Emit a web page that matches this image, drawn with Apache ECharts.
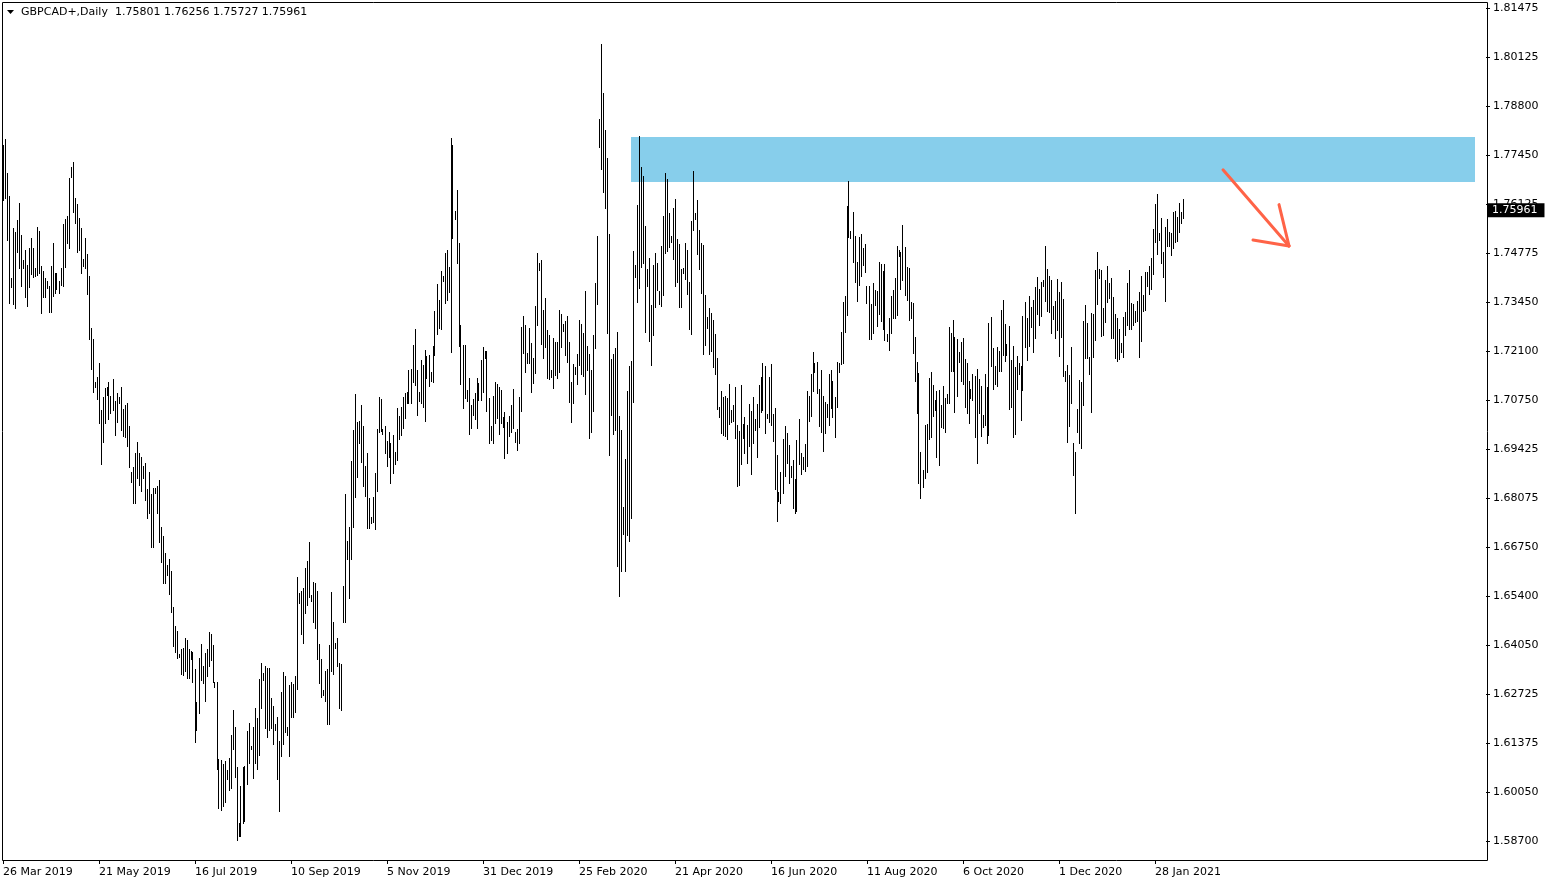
<!DOCTYPE html>
<html>
<head>
<meta charset="utf-8">
<script src="https://cdn.jsdelivr.net/npm/echarts@6/dist/echarts.min.js"></script>
<style>
html,body{margin:0;padding:0;background:#fff;}
#chart{width:1550px;height:884px;}
</style>
</head>
<body>
<div id="chart"></div>
<script>
// ---------- data ----------
const SYMBOL = 'GBPCAD+,Daily';
const LAST_OHLC = [1.75801, 1.76256, 1.75727, 1.75961];
const SLOTS = 742;
const X_LABELS = ['26 Mar 2019','21 May 2019','16 Jul 2019','10 Sep 2019','5 Nov 2019','31 Dec 2019','25 Feb 2020','21 Apr 2020','16 Jun 2020','11 Aug 2020','6 Oct 2020','1 Dec 2020','28 Jan 2021'];
const X_LABEL_STEP = 48;
const Y_LABELS = ['1.58700','1.60050','1.61375','1.62725','1.64050','1.65400','1.66750','1.68075','1.69425','1.70750','1.72100','1.73450','1.74775','1.76125','1.77450','1.78800','1.80125','1.81475'];
const Y_MIN = 1.58700;
const Y_MAX = 1.81475;
const ZONE_X = [314, 736];
const ZONE_Y = [1.77948, 1.76718];
const ARROW_FROM = [610, 1.7705];
const ARROW_TO = [643, 1.7497];
const ARROW_HEAD_A = [625, 1.7513];
const ARROW_HEAD_B = [638, 1.7610];

const HIGH = [
1.7773,1.7789,1.7697,1.7634,1.7409,1.7546,1.7536,1.7568,1.7615,1.7527,
1.7459,1.7486,1.7445,1.7491,1.7519,1.7491,1.7437,1.7549,1.7538,1.7443,
1.7428,1.7409,1.7401,1.7388,1.7443,1.7505,1.7423,1.7423,1.7401,1.7437,
1.7557,1.7570,1.7579,1.7683,1.7713,1.7727,1.7628,1.7612,1.7573,1.7546,
1.7461,1.7519,1.7475,1.7415,1.7272,1.7242,1.7125,1.7139,1.7177,1.7048,
1.7084,1.7108,1.7111,1.7125,1.7087,1.7133,1.7073,1.7095,1.7084,1.7111,
1.7051,1.7062,1.7068,1.7005,1.6879,1.6893,1.6931,1.6961,1.6931,1.6920,
1.6896,1.6904,1.6832,1.6879,1.6819,1.6835,1.6835,1.6841,1.6857,1.6729,
1.6704,1.6658,1.6624,1.6641,1.6608,1.6510,1.6458,1.6444,1.6381,1.6395,
1.6398,1.6425,1.6420,1.6395,1.6389,1.6387,1.6340,1.6250,1.6370,1.6409,
1.6349,1.6384,1.6395,1.6442,1.6436,1.6406,1.6305,1.6305,1.6094,1.6091,
1.6080,1.6088,1.6064,1.6097,1.6159,1.6228,1.6182,1.6072,1.5919,1.6021,
1.6072,1.6075,1.6170,1.6193,1.6130,1.6182,1.6233,1.6206,1.6312,1.6357,
1.6329,1.6349,1.6343,1.6343,1.6261,1.6239,1.6190,1.6209,1.6143,1.6278,
1.6332,1.6321,1.6182,1.6296,1.6305,1.6299,1.6321,1.6592,1.6548,1.6553,
1.6562,1.6616,1.6635,1.6688,1.6542,1.6579,1.6576,1.6553,1.6409,1.6367,
1.6283,1.6334,1.6340,1.6406,1.6551,1.6469,1.6412,1.6425,1.6357,1.6354,
1.6568,1.6819,1.6690,1.6729,1.6909,1.6994,1.7092,1.7016,1.7018,1.7062,
1.7005,1.6896,1.6931,1.6808,1.6756,1.6811,1.6876,1.6996,1.7084,1.7078,
1.6996,1.7005,1.6963,1.6989,1.6958,1.6980,1.6934,1.7054,1.7032,1.7057,
1.7084,1.7095,1.7098,1.7158,1.7160,1.7226,1.7269,1.7158,1.7098,1.7185,
1.7171,1.7212,1.7196,1.7198,1.7153,1.7224,1.7319,1.7393,1.7349,1.7428,
1.7415,1.7478,1.7486,1.7440,1.7792,1.7773,1.7592,1.7650,1.7505,1.7280,
1.7226,1.7226,1.7103,1.7136,1.7062,1.7078,1.7095,1.7136,1.7122,1.7185,
1.7221,1.7209,1.7209,1.7081,1.7005,1.7087,1.7125,1.7119,1.7111,1.7103,
1.7029,1.7043,1.7016,1.7032,1.7062,1.7105,1.6989,1.6996,1.7084,1.7275,
1.7306,1.7280,1.7204,1.7272,1.7232,1.7190,1.7333,1.7478,1.7451,1.7459,
1.7322,1.7355,1.7267,1.7253,1.7158,1.7245,1.7235,1.7235,1.7322,1.7311,
1.7283,1.7291,1.7306,1.7235,1.7125,1.7174,1.7166,1.7201,1.7294,1.7283,
1.7259,1.7374,1.7224,1.7201,1.7158,1.7253,1.7396,1.7525,1.7844,1.8049,
1.7915,1.7814,1.7737,1.7530,1.7187,1.7201,1.7218,1.7262,1.7032,1.6994,
1.6783,1.6914,1.7100,1.7169,1.7182,1.7483,1.7445,1.7609,1.7798,1.7713,
1.7689,1.7552,1.7434,1.7464,1.7335,1.7445,1.7478,1.7451,1.7374,1.7497,
1.7579,1.7697,1.7680,1.7587,1.7525,1.7601,1.7625,1.7516,1.7502,1.7434,
1.7437,1.7505,1.7486,1.7399,1.7565,1.7702,1.7587,1.7623,1.7541,1.7505,
1.7499,1.7363,1.7303,1.7327,1.7314,1.7294,1.7256,1.7190,1.7057,1.7100,
1.7084,1.7087,1.7081,1.7119,1.7048,1.7062,1.7111,1.7007,1.6991,1.7116,
1.7010,1.7029,1.7007,1.7065,1.7045,1.7084,1.7023,1.7065,1.7116,1.7139,
1.7177,1.7169,1.7037,1.7139,1.7174,1.7037,1.7054,1.6925,1.6825,1.6879,
1.6969,1.7005,1.6986,1.6952,1.6896,1.6912,1.6859,1.6966,1.7023,1.6931,
1.6920,1.6955,1.7100,1.7087,1.7147,1.7207,1.7177,1.7180,1.7105,1.7158,
1.7087,1.7071,1.7065,1.7147,1.7158,1.7127,1.7084,1.7180,1.7177,1.7262,
1.7344,1.7361,1.7607,1.7674,1.7538,1.7590,1.7525,1.7454,1.7522,1.7530,
1.7491,1.7502,1.7388,1.7388,1.7338,1.7396,1.7377,1.7374,1.7454,1.7448,
1.7428,1.7448,1.7256,1.7300,1.7361,1.7377,1.7409,1.7497,1.7486,1.7481,
1.7554,1.7494,1.7440,1.7437,1.7344,1.7341,1.7248,1.7180,1.7150,1.6934,
1.6884,1.7007,1.7010,1.7136,1.7153,1.7116,1.7076,1.7100,1.7103,1.7062,
1.7114,1.7081,1.7092,1.7275,1.7259,1.7294,1.7248,1.7242,1.7207,1.7235,
1.7245,1.7187,1.7177,1.7127,1.7105,1.7147,1.7142,1.7160,1.7133,1.7114,
1.7034,1.7147,1.7111,1.7286,1.7303,1.7218,1.7169,1.7221,1.7209,1.7322,
1.7349,1.7283,1.7229,1.7278,1.7185,1.7224,1.7166,1.7196,1.7177,1.7169,
1.7306,1.7344,1.7300,1.7361,1.7330,1.7349,1.7385,1.7412,1.7379,1.7399,
1.7404,1.7497,1.7434,1.7415,1.7404,1.7333,1.7346,1.7406,1.7372,1.7399,
1.7352,1.7155,1.7171,1.7144,1.7221,1.6958,1.6934,1.7051,1.7130,1.7125,
1.7291,1.7335,1.7286,1.7193,1.7314,1.7311,1.7431,1.7481,1.7434,1.7431,
1.7327,1.7404,1.7443,1.7396,1.7409,1.7358,1.7311,1.7300,1.7269,1.7232,
1.7303,1.7317,1.7396,1.7431,1.7341,1.7338,1.7319,1.7346,1.7372,1.7415,
1.7363,1.7426,1.7426,1.7443,1.7464,1.7543,1.7612,1.7639,1.7533,1.7573,
1.7481,1.7549,1.7570,1.7536,1.7533,1.7590,1.7592,1.7576,1.7615,1.7590,
1.76256
];

const LOW = [
1.7623,1.7628,1.7513,1.7341,1.7385,1.7338,1.7327,1.7481,1.7437,1.7388,
1.7437,1.7358,1.7333,1.7385,1.7420,1.7412,1.7415,1.7417,1.7423,1.7314,
1.7358,1.7358,1.7382,1.7317,1.7317,1.7361,1.7369,1.7379,1.7369,1.7390,
1.7388,1.7440,1.7505,1.7491,1.7686,1.7590,1.7560,1.7481,1.7486,1.7423,
1.7443,1.7437,1.7366,1.7242,1.7160,1.7098,1.7111,1.7078,1.7013,1.6901,
1.6961,1.7013,1.7089,1.7023,1.7040,1.7048,1.6980,1.7016,1.7068,1.6994,
1.6978,1.6975,1.6950,1.6893,1.6852,1.6794,1.6794,1.6862,1.6843,1.6827,
1.6862,1.6802,1.6753,1.6767,1.6674,1.6674,1.6822,1.6767,1.6688,1.6633,
1.6576,1.6576,1.6597,1.6545,1.6497,1.6404,1.6387,1.6370,1.6373,1.6326,
1.6323,1.6334,1.6315,1.6315,1.6367,1.6305,1.6141,1.6173,1.6220,1.6310,
1.6302,1.6252,1.6321,1.6349,1.6365,1.6305,1.6291,1.6066,1.5960,1.5955,
1.5966,1.5977,1.6039,1.6009,1.6015,1.6121,1.6045,1.5873,1.5884,1.5884,
1.5919,1.5924,1.6026,1.6083,1.6121,1.6042,1.6083,1.6066,1.6105,1.6233,
1.6310,1.6179,1.6154,1.6173,1.6179,1.6135,1.6173,1.6039,1.5952,1.6103,
1.6135,1.6168,1.6159,1.6103,1.6209,1.6209,1.6223,1.6285,1.6521,1.6436,
1.6412,1.6494,1.6515,1.6537,1.6526,1.6469,1.6452,1.6367,1.6302,1.6264,
1.6269,1.6252,1.6190,1.6190,1.6334,1.6326,1.6398,1.6349,1.6233,1.6228,
1.6469,1.6469,1.6641,1.6534,1.6641,1.6729,1.6811,1.6865,1.6958,1.6907,
1.6841,1.6814,1.6726,1.6726,1.6740,1.6743,1.6723,1.6827,1.6989,1.6991,
1.6983,1.6931,1.6896,1.6920,1.6849,1.6876,1.6901,1.6912,1.6969,1.6980,
1.6999,1.7026,1.7068,1.7068,1.7068,1.7125,1.7116,1.7034,1.7073,1.7068,
1.7057,1.7018,1.7136,1.7114,1.7127,1.7125,1.7198,1.7256,1.7272,1.7269,
1.7401,1.7341,1.7349,1.7372,1.7207,1.7519,1.7570,1.7451,1.7224,1.7119,
1.7054,1.7081,1.7073,1.6983,1.6999,1.7034,1.7023,1.6999,1.7076,1.7076,
1.7098,1.7190,1.7045,1.6958,1.6966,1.6958,1.7013,1.7026,1.6983,1.7013,
1.7002,1.6917,1.6931,1.6978,1.6989,1.6999,1.6961,1.6939,1.6958,1.7045,
1.7204,1.7153,1.7177,1.7177,1.7098,1.7122,1.7150,1.7280,1.7431,1.7229,
1.7190,1.7221,1.7136,1.7133,1.7139,1.7108,1.7144,1.7136,1.7153,1.7221,
1.7264,1.7198,1.7180,1.7071,1.7016,1.7068,1.7147,1.7119,1.7171,1.7147,
1.7142,1.7092,1.7158,1.6972,1.6989,1.7045,1.7218,1.7338,1.7768,1.7707,
1.7645,1.7601,1.7259,1.6925,1.7034,1.6983,1.6994,1.6622,1.6540,1.6608,
1.6709,1.6608,1.6706,1.6690,1.6753,1.7071,1.7412,1.7344,1.7382,1.7440,
1.7451,1.7262,1.7388,1.7237,1.7171,1.7253,1.7330,1.7377,1.7338,1.7333,
1.7363,1.7478,1.7483,1.7494,1.7508,1.7461,1.7388,1.7399,1.7330,1.7330,
1.7423,1.7406,1.7366,1.7269,1.7256,1.7541,1.7570,1.7475,1.7434,1.7369,
1.7201,1.7226,1.7272,1.7201,1.7209,1.7166,1.7147,1.7051,1.7029,1.6986,
1.6980,1.6978,1.6969,1.7010,1.7016,1.7018,1.6972,1.6841,1.6843,1.6901,
1.6972,1.6931,1.6904,1.6950,1.6873,1.6958,1.6994,1.6920,1.7002,1.7043,
1.7048,1.6986,1.7026,1.7016,1.7007,1.6963,1.6832,1.6745,1.6799,1.6794,
1.6822,1.6868,1.6904,1.6849,1.6865,1.6780,1.6767,1.6772,1.6901,1.6873,
1.6887,1.6881,1.6896,1.7018,1.7032,1.7100,1.7153,1.7095,1.7005,1.6989,
1.6936,1.6986,1.7029,1.7007,1.7054,1.7029,1.6975,1.7057,1.7153,1.7174,
1.7177,1.7262,1.7308,1.7522,1.7519,1.7454,1.7399,1.7346,1.7390,1.7415,
1.7445,1.7426,1.7341,1.7242,1.7242,1.7259,1.7335,1.7278,1.7311,1.7291,
1.7269,1.7240,1.7237,1.7212,1.7259,1.7300,1.7300,1.7308,1.7470,1.7379,
1.7404,1.7363,1.7349,1.7294,1.7300,1.7204,1.7127,1.7040,1.6849,1.6808,
1.6838,1.6862,1.6879,1.6969,1.6975,1.7032,1.7048,1.6920,1.6898,1.7002,
1.6999,1.6989,1.7068,1.7068,1.7155,1.7155,1.7043,1.7087,1.7180,1.7127,
1.7119,1.7057,1.7040,1.7013,1.7081,1.7076,1.6975,1.6904,1.7040,1.6978,
1.7002,1.7007,1.6958,1.6980,1.7169,1.7105,1.7119,1.7114,1.7155,1.7155,
1.7198,1.7182,1.7198,1.7051,1.7057,1.6975,1.6983,1.7105,1.7147,1.7021,
1.7103,1.7221,1.7185,1.7224,1.7275,1.7207,1.7245,1.7311,1.7280,1.7306,
1.7388,1.7346,1.7319,1.7317,1.7259,1.7297,1.7245,1.7267,1.7196,1.7248,
1.7142,1.7127,1.6961,1.7005,1.7068,1.6871,1.6767,1.6989,1.6958,1.6944,
1.7062,1.7190,1.7190,1.7147,1.7043,1.7193,1.7240,1.7338,1.7409,1.7251,
1.7253,1.7289,1.7344,1.7355,1.7245,1.7245,1.7190,1.7182,1.7187,1.7207,
1.7193,1.7253,1.7280,1.7269,1.7269,1.7280,1.7289,1.7291,1.7193,1.7237,
1.7319,1.7322,1.7388,1.7366,1.7379,1.7420,1.7508,1.7475,1.7513,1.7451,
1.7412,1.7346,1.7497,1.7497,1.7473,1.7491,1.7508,1.7510,1.7536,1.7560,
1.75727
];

// ---------- chart ----------
const FONT = 'DejaVu Sans';
const chart = echarts.init(document.getElementById('chart'), null, {renderer: 'canvas'});
const cats = Array.from({length: SLOTS}, (_, i) => String(i));
const yStep = (Y_MAX - Y_MIN) / (Y_LABELS.length - 1);
const isLabelIdx = (idx) => idx % X_LABEL_STEP === 0 && idx / X_LABEL_STEP < X_LABELS.length;

const option = {
  animation: false,
  backgroundColor: '#ffffff',
  grid: {left: 2, right: 64, top: 8, bottom: 43, outerBoundsMode: 'none', containLabel: false},
  xAxis: {
    type: 'category',
    data: cats,
    boundaryGap: true,
    offset: 19,
    axisLine: {show: false},
    axisTick: {show: true, alignWithLabel: true, length: 4, interval: (i) => isLabelIdx(i), lineStyle: {color: '#000'}},
    axisLabel: {
      show: true, interval: (i) => isLabelIdx(i), align: 'left', margin: 7,
      color: '#000', fontSize: 11, fontFamily: FONT,
      formatter: (v, i) => { const k = Number(v) / X_LABEL_STEP; return Number.isInteger(k) && k < X_LABELS.length ? X_LABELS[k] : ''; }
    },
    splitLine: {show: false}
  },
  yAxis: {
    type: 'value',
    position: 'right',
    min: Y_MIN, max: Y_MAX, interval: yStep,
    scale: true,
    axisLine: {show: false},
    axisTick: {show: true, length: 4, lineStyle: {color: '#000'}},
    splitLine: {show: false},
    axisLabel: {
      color: '#000', fontSize: 11, fontFamily: FONT, margin: 7,
      formatter: (v) => { const k = Math.round((v - Y_MIN) / yStep); return Y_LABELS[k] || ''; }
    }
  },
  graphic: [
    {type: 'rect', z: 100, silent: true, shape: {x: 2.5, y: 2.5, width: 1485, height: 858}, style: {fill: null, stroke: '#000', lineWidth: 1}},
    {type: 'polygon', z: 100, silent: true, shape: {points: [[7, 10], [14, 10], [10.5, 14]]}, style: {fill: '#000'}},
    {type: 'text', z: 100, silent: true, left: 21, top: 7,
     style: {text: SYMBOL + '  ' + LAST_OHLC.map(v => v.toFixed(5)).join(' '), fill: '#000', font: '11px "' + FONT + '"'}}
  ],
  series: [
    {
      type: 'line', data: [], z: 1, silent: true, symbol: 'none',
      markArea: {
        silent: true,
        itemStyle: {color: '#87ceeb', opacity: 1},
        data: [[{xAxis: ZONE_X[0], yAxis: ZONE_Y[0]}, {xAxis: ZONE_X[1], yAxis: ZONE_Y[1]}]]
      }
    },
    {
      type: 'custom', z: 3, silent: true,
      data: HIGH.map((h, i) => [i, h, LOW[i]]),
      encode: {x: 0, y: [1, 2]},
      renderItem: (params, api) => {
        const top = api.coord([api.value(0), api.value(1)]);
        const bot = api.coord([api.value(0), api.value(2)]);
        const x = Math.floor(top[0]);
        const y1 = Math.round(top[1]);
        const y2 = Math.round(bot[1]);
        return {type: 'rect', shape: {x: x, y: y1, width: 1, height: Math.max(1, y2 - y1 + 1)}, style: {fill: '#000'}};
      },
      markLine: {
        silent: true, symbol: 'none',
        lineStyle: {color: 'rgba(0,0,0,0)', width: 0},
        label: {
          show: true, position: 'end', distance: 2,
          offset: [0, 2],
          formatter: LAST_OHLC[3].toFixed(5),
          backgroundColor: '#000', color: '#fff', fontSize: 11, fontFamily: FONT,
          padding: [2, 7, 1, 4]
        },
        data: [{yAxis: LAST_OHLC[3]}]
      }
    },
    {
      type: 'custom', z: 5, silent: true,
      data: [[ARROW_FROM[0], ARROW_FROM[1]]],
      renderItem: (params, api) => {
        const a = api.coord(ARROW_FROM), b = api.coord(ARROW_TO);
        const h1 = api.coord(ARROW_HEAD_A), h2 = api.coord(ARROW_HEAD_B);
        const st = {stroke: '#ff6347', lineWidth: 3, lineCap: 'round', fill: null};
        return {type: 'group', children: [
          {type: 'line', shape: {x1: a[0], y1: a[1], x2: b[0], y2: b[1]}, style: st},
          {type: 'line', shape: {x1: h1[0], y1: h1[1], x2: b[0], y2: b[1]}, style: st},
          {type: 'line', shape: {x1: h2[0], y1: h2[1], x2: b[0], y2: b[1]}, style: st}
        ]};
      }
    }
  ]
};
chart.setOption(option);
</script>
</body>
</html>
